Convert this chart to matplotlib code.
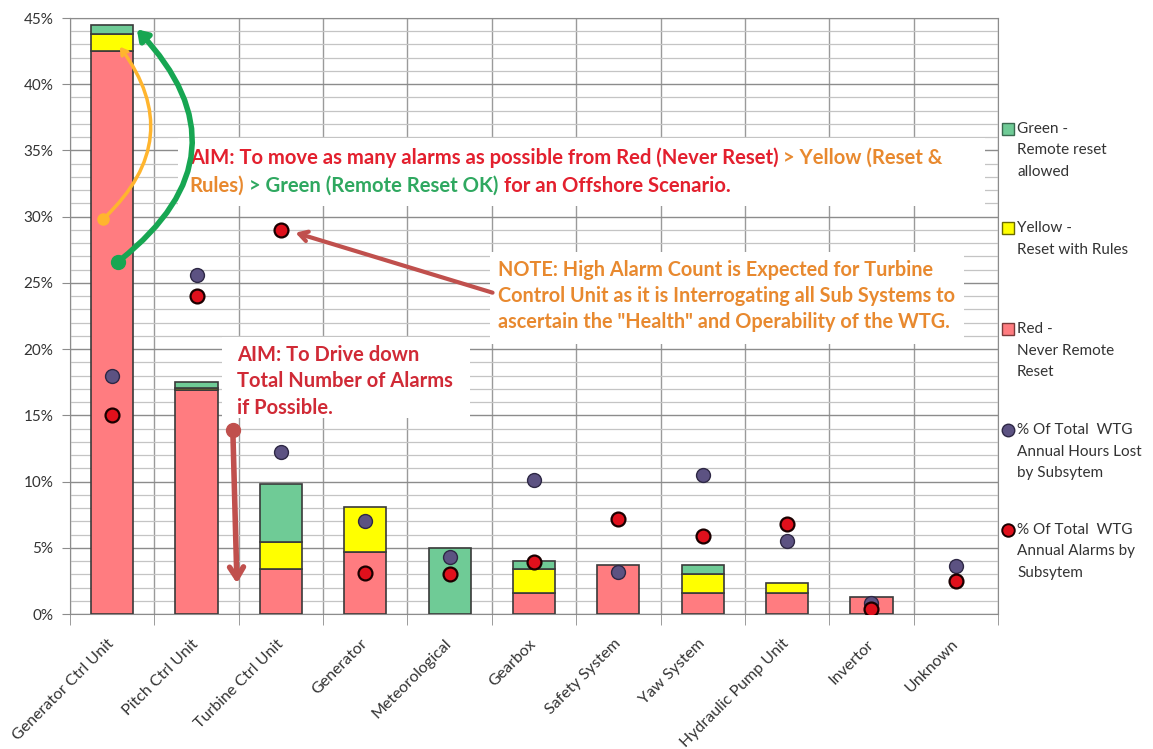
import matplotlib
matplotlib.use("Agg")
import matplotlib.pyplot as plt
import numpy as np
from matplotlib.lines import Line2D
from matplotlib.patches import FancyArrowPatch, Rectangle
from matplotlib.ticker import FixedLocator, MultipleLocator, PercentFormatter

plt.rcParams["font.family"] = ["Lato", "DejaVu Sans"]

# data (% values)
categories = ["Generator Ctrl Unit", "Pitch Ctrl Unit", "Turbine Ctrl Unit", "Generator",
              "Meteorological", "Gearbox", "Safety System", "Yaw System",
              "Hydraulic Pump Unit", "Invertor", "Unknown"]
red_never = [42.5, 16.9, 3.4, 4.7, 0.0, 1.6, 3.7, 1.6, 1.6, 1.3, 0.0]
yellow_rules = [1.3, 0.2, 2.0, 3.4, 0.0, 1.8, 0.0, 1.4, 0.75, 0.0, 0.0]
green_remote = [0.7, 0.45, 4.4, 0.0, 5.0, 0.6, 0.0, 0.7, 0.0, 0.0, 0.0]
hours_lost = [18.0, 25.6, 12.2, 7.0, 4.3, 10.1, 3.2, 10.5, 5.5, 0.8, 3.6]
alarms = [15.0, 24.0, 29.0, 3.1, 3.0, 3.9, 7.2, 5.9, 6.8, 0.4, 2.5]

legend_labels = ["Green -\nRemote reset\nallowed",
                 "Yellow -\nReset with Rules",
                 "Red -\nNever Remote\nReset",
                 "% Of Total  WTG\nAnnual Hours Lost\nby Subsytem",
                 "% Of Total  WTG\nAnnual Alarms by\nSubsytem"]

C_RED, C_YEL, C_GRN = "#FF7C80", "#FFFF00", "#6FCB96"
C_PURPLE, C_DOT = "#5C5282", "#E0101C"
C_TXT_RED, C_TXT_ORG, C_TXT_GRN = "#E3202E", "#E8892F", "#2FA860"
C_ARROW = "#C0504D"

W, H = 1153, 749
fig = plt.figure(figsize=(W / 100, H / 100), dpi=100)
ax = fig.add_axes([70 / W, 1 - 614 / H, (998 - 70) / W, (614 - 18) / H])

x = np.arange(len(categories))
red = np.array(red_never)
yel = np.array(yellow_rules)
grn = np.array(green_remote)

edge = dict(edgecolor="#3a3a3a", linewidth=1.2, zorder=3)
segs = [
    ax.bar(x, red, 0.5, color=C_RED, **edge),
    ax.bar(x, yel, 0.5, bottom=red, color=C_YEL, **edge),
    ax.bar(x, grn, 0.5, bottom=red + yel, color=C_GRN, **edge),
]
for bars in segs:
    for p in bars:
        if p.get_height() <= 0:
            p.set_visible(False)

ax.plot(x, hours_lost, "o", ms=10, mfc=C_PURPLE, mec="#2e2845", mew=1.0, zorder=5, ls="none")
ax.plot(x, alarms, "o", ms=10, mfc=C_DOT, mec="#1a0000", mew=1.6, zorder=5, ls="none")

ax.set_xlim(-0.5, len(categories) - 0.5)
ax.set_ylim(0, 45)
ax.yaxis.set_major_locator(MultipleLocator(5))
ax.yaxis.set_minor_locator(MultipleLocator(1))
ax.yaxis.set_major_formatter(PercentFormatter(decimals=0))
ax.set_xticks(x, categories, rotation=45, ha="right", va="center", rotation_mode="anchor",
              fontsize=11.5, color="#333333")
ax.xaxis.set_minor_locator(FixedLocator(np.arange(-0.5, len(categories), 1)))
ax.tick_params(axis="x", which="major", length=0, pad=20)
ax.tick_params(axis="x", which="minor", length=8, color="#8c8c8c")
ax.tick_params(axis="y", which="major", length=6, color="#8c8c8c", labelsize=11,
               labelcolor="#333333", pad=6)
ax.tick_params(axis="y", which="minor", length=0)
ax.set_axisbelow(True)
ax.grid(axis="y", which="major", color="#8c8c8c", lw=1.0)
ax.grid(axis="y", which="minor", color="#c4c4c4", lw=0.9)
ax.grid(axis="x", which="minor", color="#9a9a9a", lw=1.0)
for s in ax.spines.values():
    s.set_color("#8c8c8c")

# white annotation boxes
for (bx0, by0, bx1, by1) in [(0.78, 30.8, 10.34, 35.95), (4.48, 20.4, 10.1, 27.3),
                             (1.30, 14.8, 4.24, 20.9)]:
    ax.add_patch(Rectangle((bx0, by0), bx1 - bx0, by1 - by0, facecolor="white",
                           edgecolor="none", zorder=2))


def colored_line(x0, y0, parts, size, gap):
    t = None
    for txt, col in parts:
        if t is None:
            t = ax.text(x0, y0, txt, color=col, fontsize=size, fontweight="bold",
                        ha="left", va="center", zorder=6)
        else:
            t = ax.annotate(txt, xy=(1, 0), xycoords=t, xytext=(gap, 0),
                            textcoords="offset points", color=col, fontsize=size,
                            fontweight="bold", ha="left", va="bottom", zorder=6)


aim_size = 14.6
colored_line(0.92, (614 - 158) / 13.24,
             [("AIM: To move as many alarms as possible from Red (Never Reset)", C_TXT_RED),
              ("> Yellow (Reset &", C_TXT_ORG)], aim_size, aim_size * 0.24)
colored_line(0.92, (614 - 186) / 13.24,
             [("Rules)", C_TXT_ORG), ("> Green (Remote Reset OK)", C_TXT_GRN),
              ("for an Offshore Scenario.", C_TXT_RED)], aim_size, aim_size * 0.24)

note_lines = ["NOTE: High Alarm Count is Expected for Turbine",
              "Control Unit as it is Interrogating all Sub Systems to",
              "ascertain the \"Health\" and Operability of the WTG."]
for i, line in enumerate(note_lines):
    ax.text(4.57, (614 - 270 - 26 * i) / 13.24, line, color=C_TXT_ORG, fontsize=14.3,
            fontweight="bold", ha="left", va="center", zorder=6)

drive_lines = ["AIM: To Drive down", "Total Number of Alarms", "if Possible."]
for i, line in enumerate(drive_lines):
    ax.text(1.48, (614 - 355 - 26.5 * i) / 13.24, line, color="#D02A36", fontsize=14.5,
            fontweight="bold", ha="left", va="center", zorder=6)

# arrows
ax.add_patch(FancyArrowPatch((-0.11, 29.8), (0.07, 43.0), connectionstyle="arc3,rad=0.45",
                             arrowstyle="->,head_length=4,head_width=2.5", color="#FFB52E",
                             lw=2.5, zorder=7))
ax.plot(-0.11, 29.8, "o", ms=8, color="#FFB52E", zorder=7)
ax.add_patch(FancyArrowPatch((0.07, 26.6), (0.27, 44.3), connectionstyle="arc3,rad=0.55",
                             arrowstyle="-|>,head_length=6,head_width=4", color="#17A652",
                             lw=4, zorder=7))
ax.plot(0.07, 26.6, "o", ms=10, color="#17A652", zorder=7)
ax.add_patch(FancyArrowPatch((4.54, 24.2), (2.14, 28.85),
                             arrowstyle="->,head_length=6,head_width=3.5", color=C_ARROW,
                             lw=3, zorder=7))
ax.add_patch(FancyArrowPatch((1.43, 13.9), (1.48, 2.1),
                             arrowstyle="->,head_length=8,head_width=5", color=C_ARROW,
                             lw=4, zorder=7))
ax.plot(1.43, 13.9, "o", ms=10, color=C_ARROW, zorder=7)

# legend, drawn by hand so the marker sits on the first text line
leg_handles = [
    dict(marker="s", mfc=C_GRN, mec="#3a6a50", ms=8),
    dict(marker="s", mfc=C_YEL, mec="#6a6a00", ms=8),
    dict(marker="s", mfc=C_RED, mec="#7a3a3a", ms=8),
    dict(marker="o", mfc=C_PURPLE, mec="#2e2845", ms=9),
    dict(marker="o", mfc=C_DOT, mec="#1a0000", ms=9, mew=1.4),
]
leg_y = [129, 228, 329, 430, 530]
for lab, hy, hd in zip(legend_labels, leg_y, leg_handles):
    fig.add_artist(Line2D([1008 / W], [1 - hy / H], transform=fig.transFigure, ls="none", **hd))
    for j, line in enumerate(lab.split("\n")):
        fig.text(1017 / W, 1 - (hy + 21.5 * j) / H, line, fontsize=11, color="#333333",
                 ha="left", va="center")

fig.savefig("out.png", dpi=100)
